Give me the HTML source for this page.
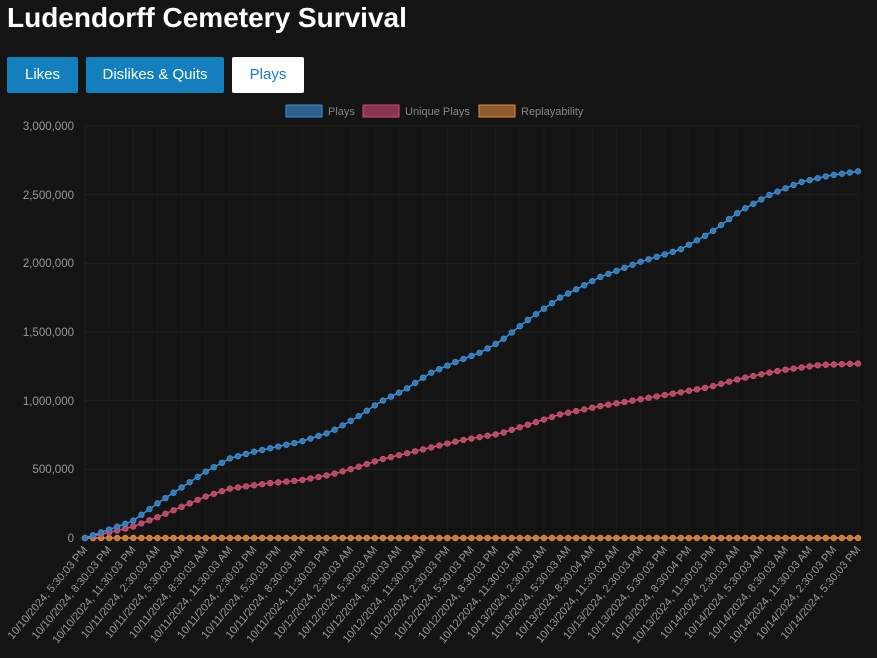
<!DOCTYPE html>
<html><head><meta charset="utf-8"><style>
body{margin:0;width:877px;height:658px;background:#141414;overflow:hidden;font-family:"Liberation Sans",Arial,sans-serif;position:relative}
h1{position:absolute;left:7px;top:2px;margin:0;font-size:28px;font-weight:bold;color:#fff}
.b{position:absolute;top:57px;height:36px;line-height:36px;text-align:center;font-size:15px;color:#fff;background:#1380bd;border-radius:2px}
svg{position:absolute;left:0;top:0}
</style></head><body>
<h1>Ludendorff Cemetery Survival</h1>
<div class="b" style="left:7px;width:71px">Likes</div>
<div class="b" style="left:86px;width:138px">Dislikes &amp; Quits</div>
<div class="b" style="left:232px;width:72px;background:#fff;color:#1380bd">Plays</div>
<svg id="s" width="877" height="658" font-family="Liberation Sans, Arial, sans-serif">
<g font-size="11" fill="#888">
<rect x="286" y="105" width="36" height="12" fill="#2d5f8c" stroke="#3b8fd6"/><text x="328" y="115">Plays</text>
<rect x="363" y="105" width="36" height="12" fill="#8c3550" stroke="#d2506f"/><text x="405" y="115">Unique Plays</text>
<rect x="479" y="105" width="36" height="12" fill="#8c5a2d" stroke="#e38b3c"/><text x="521" y="115">Replayability</text>
</g>
<g font-size="11.5" fill="#999" text-anchor="end">
<text x="74" y="130">3,000,000</text><text x="74" y="199">2,500,000</text><text x="74" y="267">2,000,000</text><text x="74" y="336">1,500,000</text><text x="74" y="405">1,000,000</text><text x="74" y="473">500,000</text><text x="74" y="542">0</text>
</g>
<g id="grid"></g>
<g id="xl" font-size="11" fill="#9a9a9a" text-anchor="end">
<text>10/10/2024, 5:30:03 PM</text><text>10/10/2024, 8:30:03 PM</text><text>10/10/2024, 11:30:03 PM</text><text>10/11/2024, 2:30:03 AM</text><text>10/11/2024, 5:30:03 AM</text><text>10/11/2024, 8:30:03 AM</text><text>10/11/2024, 11:30:03 AM</text><text>10/11/2024, 2:30:03 PM</text><text>10/11/2024, 5:30:03 PM</text><text>10/11/2024, 8:30:03 PM</text><text>10/11/2024, 11:30:03 PM</text><text>10/12/2024, 2:30:03 AM</text><text>10/12/2024, 5:30:03 AM</text><text>10/12/2024, 8:30:03 AM</text><text>10/12/2024, 11:30:03 AM</text><text>10/12/2024, 2:30:03 PM</text><text>10/12/2024, 5:30:03 PM</text><text>10/12/2024, 8:30:03 PM</text><text>10/12/2024, 11:30:03 PM</text><text>10/13/2024, 2:30:03 AM</text><text>10/13/2024, 5:30:03 AM</text><text>10/13/2024, 8:30:04 AM</text><text>10/13/2024, 11:30:03 AM</text><text>10/13/2024, 2:30:03 PM</text><text>10/13/2024, 5:30:03 PM</text><text>10/13/2024, 8:30:04 PM</text><text>10/13/2024, 11:30:03 PM</text><text>10/14/2024, 2:30:03 AM</text><text>10/14/2024, 5:30:03 AM</text><text>10/14/2024, 8:30:03 AM</text><text>10/14/2024, 11:30:03 AM</text><text>10/14/2024, 2:30:03 PM</text><text>10/14/2024, 5:30:03 PM</text>
</g>
<g id="d"></g>
</svg>
<script>
var X0=85,X1=858,N=97,Y0=538,K=137.33;
function xs(i){return X0+(X1-X0)*i/(N-1)}
var ns="http://www.w3.org/2000/svg",g=document.getElementById('grid'),d=document.getElementById('d');
function el(t,a,p){var e=document.createElementNS(ns,t);for(var k in a)e.setAttribute(k,a[k]);p.appendChild(e);return e}
for(var j=0;j<=6;j++)el('line',{x1:X0,x2:X1,y1:Y0-j*68.67,y2:Y0-j*68.67,stroke:'#222'},g);
var ls=document.getElementById('xl').children;
for(var j=0;j<33;j++){var x=xs(j*3);el('line',{x1:x,x2:x,y1:126,y2:Y0,stroke:'#1b1b1b'},g);
ls[j].setAttribute('x',x+3);ls[j].setAttribute('y',550);ls[j].setAttribute('transform','rotate(-50 '+(x+3)+' 550)');}
var P=[[85,0],[132,.12],[157,.25],[205,.48],[230,.58],[255,.63],[300,.7],[330,.77],[355,.87],[380,.99],[405,1.08],[430,1.2],[455,1.28],[480,1.35],[500,1.43],[530,1.6],[560,1.75],[600,1.9],[640,2.01],[680,2.1],[710,2.22],[740,2.38],[770,2.5],[800,2.59],[830,2.64],[858,2.67]];
var U=[[85,0],[132,.08],[157,.15],[205,.3],[230,.36],[270,.4],[300,.42],[330,.46],[355,.51],[380,.57],[420,.64],[460,.71],[500,.76],[530,.83],[560,.9],[600,.96],[640,1.01],[680,1.06],[710,1.1],[740,1.16],[780,1.22],[820,1.26],[858,1.27]];
function f(T,x){for(var i=1;i<T.length;i++)if(x<=T[i][0]){var a=T[i-1],b=T[i];return a[1]+(b[1]-a[1])*(x-a[0])/(b[0]-a[0])}return T[T.length-1][1]}
function ser(T,c,fc){var pts=[];for(var i=0;i<N;i++){var x=xs(i);pts.push(x+','+(Y0-(T?f(T,x):0)*K))}
el('polyline',{points:pts.join(' '),fill:'none',stroke:c,'stroke-width':1.5},d);
pts.forEach(function(p){p=p.split(',');el('circle',{cx:p[0],cy:p[1],r:2.7,fill:fc,stroke:c,'stroke-width':1},d)})}
ser(null,'#e38b3c','#c07a40');ser(U,'#d2506f','#b04a66');ser(P,'#3b8fd6','#3578b5');
</script>
</body></html>
